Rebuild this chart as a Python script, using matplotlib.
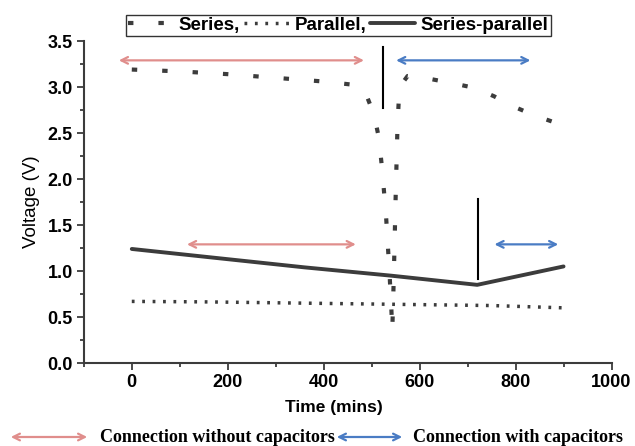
import matplotlib
matplotlib.use('Agg')
import matplotlib.pyplot as plt
from matplotlib.patches import FancyArrowPatch
from matplotlib.ticker import MultipleLocator

# data
series_t = [0, 100, 200, 300, 400, 470, 490, 505, 515, 522, 530, 537, 541, 543,
            546, 550, 554, 558, 575, 620, 670, 715, 755, 795, 840, 890]
series_v = [3.19, 3.17, 3.14, 3.10, 3.06, 3.02, 2.90, 2.70, 2.45, 2.10, 1.60, 1.00, 0.60, 0.35,
            0.90, 1.80, 2.60, 3.00, 3.12, 3.09, 3.04, 2.99, 2.90, 2.79, 2.69, 2.60]
parallel_t = [0, 150, 300, 450, 600, 750, 900]
parallel_v = [0.67, 0.665, 0.655, 0.645, 0.635, 0.625, 0.60]
sp_t = [0, 180, 360, 540, 720, 810, 900]
sp_v = [1.24, 1.14, 1.04, 0.95, 0.85, 0.95, 1.05]

labels = ['Series,', 'Parallel,', 'Series-parallel']
x_ticks = [0, 200, 400, 600, 800, 1000]
y_ticks = [0.0, 0.5, 1.0, 1.5, 2.0, 2.5, 3.0, 3.5]

# annotation spans (time) and levels (voltage)
top_level = 3.29
low_level = 1.29
top_without = (-27, 484)
top_with = (551, 831)
low_without = (115, 467)
low_with = (756, 889)
top_split = (524, 3.43, 2.77)
low_split = (722, 1.78, 0.91)

pink = '#e08e8c'
blue = '#4a7cc4'
grey = '#3c3c3c'

plt.rcParams['font.family'] = ['Liberation Sans', 'DejaVu Sans']

fig = plt.figure(figsize=(6.35, 4.46), dpi=100)
ax = fig.add_axes([0.132, 0.186, 0.831, 0.722])

l1, = ax.plot(series_t, series_v, color=grey, lw=3, linestyle=(0, (1.3, 6)))
l2, = ax.plot(parallel_t, parallel_v, color=grey, lw=2.5, linestyle=(0, (0.8, 2.2)))
l3, = ax.plot(sp_t, sp_v, color=grey, lw=2.8, solid_capstyle='round')

def arrow(x0, x1, y, c):
    ax.annotate('', xy=(x1, y), xytext=(x0, y),
                arrowprops=dict(arrowstyle='<->', color=c, lw=1.6,
                                mutation_scale=12, shrinkA=0, shrinkB=0))

arrow(top_without[0], top_without[1], top_level, pink)
arrow(top_with[0], top_with[1], top_level, blue)
arrow(low_without[0], low_without[1], low_level, pink)
arrow(low_with[0], low_with[1], low_level, blue)
ax.plot([top_split[0], top_split[0]], top_split[1:], color='black', lw=1.5)
ax.plot([low_split[0], low_split[0]], low_split[1:], color='black', lw=1.5)

ax.set_xlim(-100, 1000)
ax.set_ylim(0, 3.5)
ax.set_xticks(x_ticks)
ax.set_yticks(y_ticks)
ax.set_yticklabels(['%.1f' % v for v in y_ticks])
ax.xaxis.set_minor_locator(MultipleLocator(100))
ax.yaxis.set_minor_locator(MultipleLocator(0.25))
ax.tick_params(which='both', direction='out', color=grey, width=1.3)
ax.tick_params(which='major', length=5, labelsize=13, pad=3)
ax.tick_params(which='minor', length=3)
for lab in ax.get_xticklabels() + ax.get_yticklabels():
    lab.set_fontweight('bold')
for s in ['top', 'right']:
    ax.spines[s].set_visible(False)
for s in ['left', 'bottom']:
    ax.spines[s].set_color(grey)
    ax.spines[s].set_linewidth(1.5)

ax.set_xlabel('Time (mins)', fontsize=12.5, fontweight='bold')
ax.xaxis.set_label_coords(0.473, -0.115)
ax.set_ylabel('Voltage (V)', fontsize=13.5, labelpad=5)

leg = fig.legend([l1, l2, l3], labels, loc='lower center', bbox_to_anchor=(0.533, 0.920),
                 ncol=3, frameon=True, fancybox=False, edgecolor='black',
                 prop={'weight': 'bold', 'size': 13.5}, handlelength=2.4,
                 handletextpad=0.3, columnspacing=0.2, borderpad=0.1,
                 borderaxespad=0)
leg.get_frame().set_linewidth(1.0)

# bottom key
yk = 1 - 437 / 446
fig.add_artist(FancyArrowPatch((8 / 635, yk), (90 / 635, yk), transform=fig.transFigure,
                               arrowstyle='<->', color=pink, lw=1.6, mutation_scale=12))
fig.add_artist(FancyArrowPatch((334 / 635, yk), (405 / 635, yk), transform=fig.transFigure,
                               arrowstyle='<->', color=blue, lw=1.6, mutation_scale=12))
fig.text(100 / 635, yk, 'Connection without capacitors', family=['Liberation Serif'],
         fontweight='bold', fontsize=13, va='center', ha='left')
fig.text(413 / 635, yk, 'Connection with capacitors', family=['Liberation Serif'],
         fontweight='bold', fontsize=13, va='center', ha='left')

fig.savefig('out.png', dpi=100)
